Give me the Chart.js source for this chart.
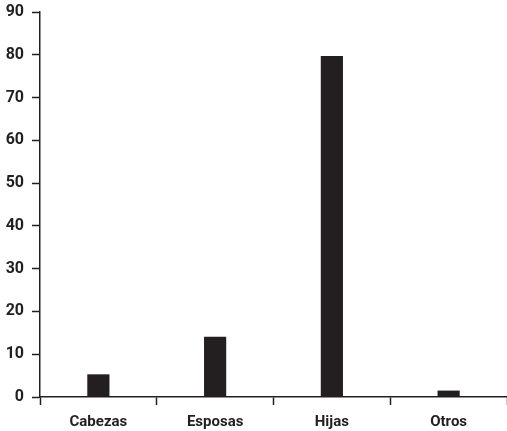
<!DOCTYPE html>
<html>
<head>
<meta charset="utf-8">
<script src="https://cdn.jsdelivr.net/npm/chart.js@4"></script>
<style>
  html, body { margin: 0; padding: 0; background: #fff; }
  #wrap { width: 507px; height: 431px; }
</style>
</head>
<body>
<div id="wrap"><canvas id="grafico"></canvas></div>
<script>
// datos
const categorias = ['Cabezas', 'Esposas', 'Hijas', 'Otros'];
const valores = [5.3, 14.1, 79.7, 1.5];
const ejeY = { min: 0, max: 90, paso: 10 };

const negro = '#231f20';
const fuente = "'Roboto', sans-serif";

const ctx = document.getElementById('grafico').getContext('2d');
const grafico = new Chart(ctx, {
    type: 'bar',
    data: {
        labels: categorias,
        datasets: [{
            data: valores,
            backgroundColor: negro,
            borderWidth: 0,
            barPercentage: 0.19,
            categoryPercentage: 1
        }]
    },
    options: {
        responsive: true,
        maintainAspectRatio: false,
        animation: false,
        layout: { padding: { top: 12, right: 0, left: 0, bottom: 0 } },
        plugins: {
            legend: { display: false },
            tooltip: { enabled: false }
        },
        scales: {
            x: {
                grid: {
                    offset: true,
                    drawOnChartArea: false,
                    tickLength: 8,
                    tickWidth: 1.5,
                    color: negro
                },
                border: { display: true, color: negro, width: 1.5 },
                ticks: {
                    color: negro,
                    padding: 8,
                    font: { family: fuente, size: 15, weight: 'bold' }
                },
                afterFit: function (scale) {
                    scale.height = 34;
                    scale.paddingLeft = 0;
                    scale.paddingRight = 0;
                }
            },
            y: {
                min: ejeY.min,
                max: ejeY.max,
                grid: {
                    drawOnChartArea: false,
                    tickLength: 8,
                    tickWidth: 1.5,
                    color: negro
                },
                border: { display: true, color: negro, width: 1.5 },
                ticks: {
                    stepSize: ejeY.paso,
                    color: negro,
                    padding: 8,
                    font: { family: fuente, size: 16, weight: 'bold' }
                },
                afterFit: function (scale) {
                    scale.width = 40;
                    scale.paddingTop = 0;
                    scale.paddingBottom = 0;
                }
            }
        }
    }
});
</script>
</body>
</html>
